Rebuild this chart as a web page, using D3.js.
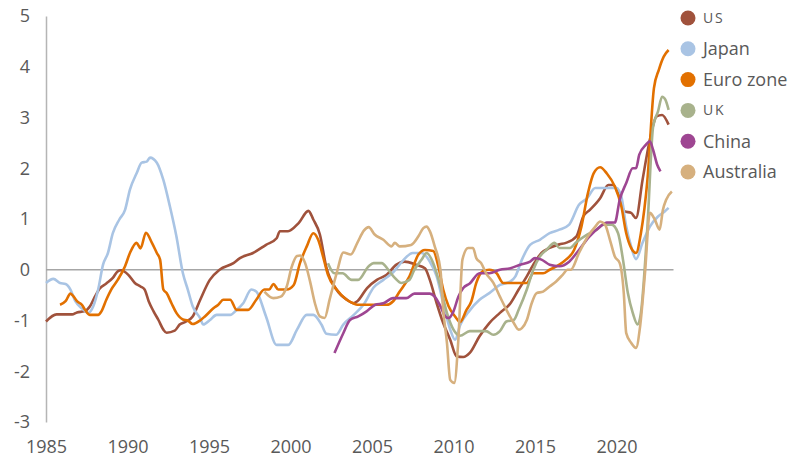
<!DOCTYPE html>
<html lang="en">
<head>
<meta charset="UTF-8">
<title>Inflation gap</title>
<script src="https://cdn.jsdelivr.net/npm/d3@7"></script>
<style>
    body { margin: 0; background: #fff; }
    svg text { font-family: "Open Sans", sans-serif; fill: #595959; }
</style>
</head>
<body>
<script>
    // series names, in legend order
    const seriesNames = ["US", "Japan", "Euro zone", "UK", "China", "Australia"]

    // [year, value]
    const us = [[1985.0,-1.02],[1985.65,-0.88],[1986.6,-0.88],[1986.9,-0.84],[1987.35,-0.82],[1987.7,-0.72],[1988.0,-0.53],[1988.3,-0.37],[1988.7,-0.27],[1989.1,-0.16],[1989.4,-0.03],[1989.6,-0.01],[1990.05,-0.1],[1990.45,-0.26],[1990.8,-0.33],[1991.05,-0.39],[1991.3,-0.62],[1991.6,-0.82],[1991.9,-0.99],[1992.2,-1.18],[1992.4,-1.24],[1992.9,-1.2],[1993.2,-1.08],[1993.6,-1.02],[1994.0,-0.92],[1994.45,-0.6],[1995.05,-0.2],[1995.65,0.0],[1996.5,0.13],[1996.9,0.23],[1997.7,0.33],[1998.5,0.49],[1999.15,0.62],[1999.35,0.76],[1999.85,0.76],[2000.5,0.92],[2001.1,1.16],[2001.4,0.99],[2001.8,0.7],[2002.2,0.05],[2002.8,-0.38],[2003.5,-0.6],[2003.85,-0.66],[2004.1,-0.62],[2004.7,-0.36],[2005.3,-0.2],[2005.9,-0.1],[2006.5,0.1],[2007.0,0.16],[2007.7,0.1],[2008.25,0.03],[2008.55,-0.2],[2008.97,-0.66],[2009.37,-1.05],[2009.8,-1.38],[2010.2,-1.71],[2010.6,-1.72],[2011.0,-1.64],[2011.6,-1.31],[2012.2,-1.05],[2012.85,-0.85],[2013.5,-0.66],[2014.0,-0.39],[2014.5,-0.13],[2014.9,0.1],[2015.4,0.33],[2015.9,0.43],[2016.5,0.5],[2016.9,0.53],[2017.55,0.66],[2017.96,1.05],[2018.37,1.18],[2019.0,1.41],[2019.5,1.67],[2019.8,1.67],[2020.1,1.51],[2020.5,1.15],[2020.9,1.12],[2021.2,1.02],[2021.6,1.77],[2022.05,2.56],[2022.46,3.02],[2022.8,3.05],[2023.2,2.86]]

    const japan = [[1985.0,-0.26],[1985.45,-0.18],[1985.86,-0.26],[1986.2,-0.28],[1986.5,-0.39],[1986.8,-0.62],[1987.2,-0.76],[1987.6,-0.85],[1987.9,-0.72],[1988.2,-0.39],[1988.5,0.1],[1988.8,0.33],[1989.1,0.72],[1989.5,0.99],[1989.85,1.18],[1990.15,1.58],[1990.56,1.9],[1990.87,2.11],[1991.18,2.13],[1991.38,2.21],[1991.8,2.11],[1992.2,1.77],[1992.6,1.25],[1993.0,0.66],[1993.4,-0.07],[1993.7,-0.39],[1994.0,-0.72],[1994.45,-0.95],[1994.65,-1.08],[1995.06,-0.99],[1995.47,-0.89],[1996.3,-0.89],[1996.7,-0.79],[1997.1,-0.66],[1997.6,-0.39],[1997.9,-0.43],[1998.5,-0.92],[1999.15,-1.48],[1999.87,-1.48],[2000.4,-1.18],[2001.0,-0.89],[2001.4,-0.89],[2001.9,-1.08],[2002.2,-1.26],[2002.8,-1.28],[2003.24,-1.08],[2003.85,-0.9],[2004.5,-0.68],[2005.1,-0.35],[2005.7,-0.2],[2006.3,-0.05],[2006.9,0.18],[2007.5,0.33],[2008.05,0.33],[2008.55,0.16],[2008.97,-0.13],[2009.37,-0.66],[2009.8,-1.18],[2010.1,-1.38],[2010.4,-1.1],[2011.0,-0.8],[2011.6,-0.59],[2012.2,-0.46],[2012.85,-0.3],[2013.5,-0.23],[2013.8,-0.13],[2014.2,0.2],[2014.7,0.49],[2015.3,0.59],[2015.9,0.72],[2016.5,0.79],[2017.1,0.89],[2017.7,1.28],[2018.2,1.41],[2018.7,1.61],[2020.0,1.61],[2020.3,1.44],[2020.6,0.85],[2020.9,0.46],[2021.2,0.21],[2021.6,0.53],[2022.05,0.85],[2022.55,1.05],[2022.96,1.15],[2023.2,1.22]]

    const euroZone = [[1985.86,-0.69],[1986.2,-0.62],[1986.5,-0.47],[1986.7,-0.53],[1986.9,-0.62],[1987.2,-0.69],[1987.4,-0.79],[1987.7,-0.89],[1988.2,-0.89],[1988.4,-0.82],[1988.7,-0.59],[1989.0,-0.39],[1989.4,-0.2],[1989.85,0.07],[1990.15,0.33],[1990.56,0.53],[1990.8,0.42],[1991.13,0.73],[1991.5,0.53],[1991.8,0.33],[1992.0,0.2],[1992.2,-0.39],[1992.4,-0.46],[1992.7,-0.66],[1993.0,-0.85],[1993.4,-0.98],[1993.7,-1.0],[1994.0,-1.07],[1994.45,-1.0],[1994.75,-0.92],[1995.27,-0.76],[1995.57,-0.69],[1995.88,-0.59],[1996.3,-0.59],[1996.7,-0.79],[1997.4,-0.79],[1997.9,-0.59],[1998.4,-0.39],[1998.7,-0.39],[1998.95,-0.28],[1999.25,-0.39],[1999.77,-0.39],[2000.2,-0.3],[2000.58,0.13],[2001.0,0.46],[2001.4,0.72],[2001.7,0.59],[2002.0,0.26],[2002.3,-0.1],[2002.83,-0.39],[2003.45,-0.59],[2003.85,-0.66],[2004.1,-0.69],[2005.9,-0.69],[2006.3,-0.62],[2006.7,-0.43],[2007.3,-0.13],[2007.85,0.3],[2008.25,0.39],[2008.76,0.37],[2009.07,0.07],[2009.37,-0.39],[2009.7,-0.72],[2010.1,-0.92],[2010.4,-1.03],[2010.8,-0.79],[2011.1,-0.62],[2011.4,-0.26],[2011.8,-0.03],[2012.2,0.0],[2012.65,-0.07],[2013.05,-0.26],[2014.5,-0.26],[2014.9,-0.07],[2015.5,-0.07],[2015.9,0.0],[2016.5,0.1],[2016.9,0.2],[2017.4,0.39],[2017.85,0.85],[2018.25,1.51],[2018.6,1.9],[2019.0,2.02],[2019.4,1.9],[2019.9,1.64],[2020.3,1.25],[2020.6,0.72],[2020.9,0.43],[2021.2,0.33],[2021.5,0.72],[2021.9,1.77],[2022.3,3.58],[2022.6,3.94],[2022.9,4.2],[2023.2,4.33]]

    const uk = [[2002.3,0.13],[2002.7,-0.07],[2003.2,-0.07],[2003.75,-0.2],[2004.15,-0.2],[2004.8,0.07],[2005.1,0.13],[2005.6,0.13],[2006.0,0.0],[2006.4,-0.16],[2006.8,-0.26],[2007.3,-0.2],[2007.6,0.0],[2008.05,0.2],[2008.35,0.33],[2008.76,0.13],[2009.2,-0.33],[2009.6,-0.85],[2010.0,-1.18],[2010.4,-1.3],[2011.0,-1.21],[2012.0,-1.21],[2012.45,-1.28],[2012.85,-1.21],[2013.25,-1.02],[2013.7,-0.99],[2014.0,-0.79],[2014.5,-0.39],[2014.9,0.0],[2015.3,0.26],[2015.7,0.39],[2016.2,0.53],[2016.5,0.43],[2017.15,0.43],[2017.5,0.53],[2018.2,0.69],[2018.8,0.79],[2019.2,0.89],[2019.7,0.89],[2020.1,0.72],[2020.4,0.2],[2020.7,-0.46],[2021.0,-0.85],[2021.3,-1.08],[2021.5,-0.85],[2021.9,0.85],[2022.25,2.82],[2022.55,3.12],[2022.8,3.41],[2023.0,3.35],[2023.2,3.15]]

    const china = [[2002.7,-1.64],[2003.24,-1.25],[2003.65,-0.99],[2004.16,-0.92],[2004.67,-0.82],[2005.2,-0.69],[2005.7,-0.66],[2006.3,-0.56],[2007.1,-0.56],[2007.6,-0.47],[2008.55,-0.47],[2008.85,-0.53],[2009.2,-0.72],[2009.5,-0.92],[2009.7,-0.95],[2010.0,-0.82],[2010.3,-0.53],[2010.6,-0.36],[2011.0,-0.27],[2011.6,-0.07],[2012.2,-0.07],[2012.85,0.0],[2013.5,0.03],[2014.1,0.1],[2014.7,0.16],[2015.0,0.23],[2015.4,0.2],[2015.9,0.1],[2016.5,0.07],[2017.1,0.16],[2017.7,0.39],[2018.35,0.66],[2019.0,0.85],[2019.4,0.93],[2019.9,0.93],[2020.2,1.38],[2020.6,1.71],[2021.0,2.0],[2021.2,2.0],[2021.4,2.27],[2021.8,2.46],[2022.05,2.53],[2022.25,2.36],[2022.5,2.07],[2022.7,1.94]]

    const australia = [[1998.4,-0.43],[1998.95,-0.56],[1999.4,-0.53],[1999.77,-0.33],[2000.07,0.05],[2000.4,0.27],[2000.6,0.28],[2000.9,0.13],[2001.2,-0.23],[2001.5,-0.66],[2001.8,-0.92],[2002.1,-0.95],[2002.4,-0.59],[2002.83,-0.07],[2003.25,0.34],[2003.7,0.3],[2004.1,0.53],[2004.5,0.77],[2004.8,0.84],[2005.15,0.7],[2005.7,0.59],[2006.2,0.46],[2006.4,0.53],[2006.7,0.46],[2007.4,0.49],[2007.85,0.66],[2008.15,0.82],[2008.35,0.85],[2008.55,0.76],[2008.85,0.46],[2009.2,0.0],[2009.37,-0.79],[2009.6,-1.44],[2009.8,-2.17],[2010.05,-2.23],[2010.3,-1.38],[2010.55,0.2],[2010.9,0.43],[2011.2,0.43],[2011.4,0.23],[2011.7,0.13],[2012.0,-0.07],[2012.45,-0.26],[2012.85,-0.53],[2013.25,-0.79],[2013.7,-1.05],[2014.0,-1.18],[2014.2,-1.15],[2014.5,-0.99],[2014.8,-0.66],[2015.1,-0.46],[2015.5,-0.43],[2015.9,-0.33],[2016.3,-0.23],[2016.7,-0.1],[2017.0,0.0],[2017.2,0.0],[2017.7,0.33],[2018.25,0.66],[2018.7,0.85],[2019.0,0.95],[2019.3,0.89],[2019.6,0.59],[2019.9,0.26],[2020.2,0.13],[2020.45,-0.46],[2020.6,-1.25],[2020.9,-1.44],[2021.2,-1.54],[2021.45,-1.12],[2021.75,-0.07],[2022.05,1.12],[2022.35,0.99],[2022.65,0.79],[2022.85,1.18],[2023.05,1.38],[2023.4,1.54]]

    const yTicks = [-3, -2, -1, 0, 1, 2, 3, 4, 5]
    const xTicks = [1985, 1990, 1995, 2000, 2005, 2010, 2015, 2020]

    const allSeries = [us, japan, euroZone, uk, china, australia]
    const colours = ["#a0523c", "#a9c4e4", "#e27000", "#a8b28c", "#9e4692", "#d6b07e"]

    const width = 794
    const height = 459
    const svg = d3.select("body").append("svg").attr("width", width).attr("height", height)

    const x = d3.scaleLinear().domain([1985, 2023.5]).range([46, 673.5])
    const y = d3.scaleLinear().domain([-3, 5]).range([422, 16])

    // y axis, plain hyphen for negatives
    svg.append("g")
        .attr("transform", `translate(${x(1985)},0)`)
        .call(d3.axisLeft(y).tickValues(yTicks).tickSize(0).tickPadding(16).tickFormat(d => String(d)))
        .call(g => g.select(".domain").attr("stroke", "#b5b5b5").attr("stroke-width", 1.5))
        .selectAll("text").attr("font-size", 18).attr("fill", "#595959")

    // x axis, labels only
    svg.append("g")
        .attr("transform", `translate(0,${y(-3)})`)
        .call(d3.axisBottom(x).tickValues(xTicks).tickSize(0).tickPadding(18).tickFormat(d => String(d)))
        .call(g => g.select(".domain").remove())
        .selectAll("text").attr("font-size", 18).attr("fill", "#595959")

    // zero line
    svg.append("line")
        .attr("x1", x(1985)).attr("x2", x(2023.5))
        .attr("y1", y(0)).attr("y2", y(0))
        .attr("stroke", "#a6a6a6").attr("stroke-width", 1.3)

    const line = d3.line()
        .x(d => x(d[0]))
        .y(d => y(d[1]))
        .curve(d3.curveMonotoneX)

    svg.append("g").selectAll("path")
        .data(allSeries)
        .enter().append("path")
        .attr("d", line)
        .attr("fill", "none")
        .attr("stroke", (d, i) => colours[i])
        .attr("stroke-width", 2.6)
        .attr("stroke-linejoin", "round")

    //Legend
    const legendY = d3.scalePoint().domain(seriesNames).range([18, 172])
    const legend = svg.append("g").selectAll("g")
        .data(seriesNames)
        .enter().append("g")
        .attr("transform", d => `translate(688,${legendY(d)})`)

    legend.append("circle").attr("r", 7.5).attr("fill", (d, i) => colours[i])
    legend.append("text")
        .attr("x", 15)
        .attr("dy", "0.35em")
        .attr("font-size", d => d.length == 2 ? 14 : 18)
        .attr("letter-spacing", d => d.length == 2 ? 1.8 : 0)
        .text(d => d)
</script>
</body>
</html>
